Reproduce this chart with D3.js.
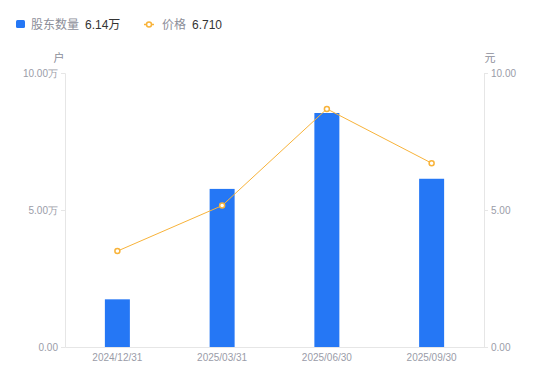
<!DOCTYPE html>
<html lang="zh">
<head>
    <meta charset="UTF-8">
    <title>股东数量</title>
    <script src="https://d3js.org/d3.v7.min.js"></script>
    <style>
        body { margin: 0; background: #fff; }
        svg { font-family: "Liberation Sans", Arial, "Noto Sans CJK SC", sans-serif; }
        .tick text { fill: #9a9ca8; font-size: 10px; }
        .legend text { font-size: 12px; }
    </style>
</head>
<body>
<svg width="550" height="381"></svg>
<script>
    // chart data
    const dates = ["2024/12/31", "2025/03/31", "2025/06/30", "2025/09/30"];
    const holders = [1.74, 5.77, 8.54, 6.14];   // 万户
    const prices = [3.50, 5.16, 8.69, 6.71];    // 元
    const leftTicks = [0, 5, 10];
    const rightTicks = [0, 5, 10];

    const barColor = "#2577f5";
    const lineColor = "#f8b33a";

    const margin = {top: 73, right: 66, bottom: 34, left: 65},
        width = 550 - margin.left - margin.right,
        height = 381 - margin.top - margin.bottom;

    const svg = d3.select("svg");
    const g = svg.append("g")
        .attr("transform", "translate(" + margin.left + "," + margin.top + ")");

    const x = d3.scaleBand().domain(dates).range([0, width]);
    const yL = d3.scaleLinear().domain([0, 10]).range([height, 0]);
    const yR = d3.scaleLinear().domain([0, 10]).range([height, 0]);

    // left axis
    const left = g.append("g")
        .call(d3.axisLeft(yL).tickValues(leftTicks).tickSize(4).tickPadding(3)
            .tickFormat(d => d === 0 ? "0.00" : d3.format(".2f")(d) + "万"));
    left.select(".domain").attr("stroke", "#e6e6e6");
    left.selectAll(".tick line").attr("stroke", "#e6e6e6");

    // right axis
    const right = g.append("g")
        .attr("transform", "translate(" + width + ",0)")
        .call(d3.axisRight(yR).tickValues(rightTicks).tickSize(4).tickPadding(3)
            .tickFormat(d3.format(".2f")));
    right.select(".domain").attr("stroke", "#e6e6e6");
    right.selectAll(".tick line").attr("stroke", "#e6e6e6");

    // bottom axis
    const bottom = g.append("g")
        .attr("transform", "translate(0," + height + ")")
        .call(d3.axisBottom(x).tickSize(0).tickPadding(7));
    bottom.select(".domain").attr("stroke", "#e6e6e6");

    // unit labels
    g.append("text").attr("x", -6).attr("y", -11)
        .attr("text-anchor", "middle").attr("fill", "#8c8e99").attr("font-size", 11)
        .attr("font-family", "Noto Sans CJK SC").text("户");
    g.append("text").attr("x", width + 6).attr("y", -11)
        .attr("text-anchor", "middle").attr("fill", "#8c8e99").attr("font-size", 11)
        .attr("font-family", "Noto Sans CJK SC").text("元");

    // bars
    const bw = 25;
    g.selectAll(".bar").data(holders).enter().append("rect")
        .attr("class", "bar")
        .attr("x", (d, i) => x(dates[i]) + x.bandwidth() / 2 - bw / 2)
        .attr("y", d => yL(d))
        .attr("width", bw)
        .attr("height", d => height - yL(d))
        .attr("fill", barColor);

    // price line
    const line = d3.line()
        .x((d, i) => x(dates[i]) + x.bandwidth() / 2)
        .y(d => yR(d));
    g.append("path")
        .attr("d", line(prices))
        .attr("fill", "none")
        .attr("stroke", lineColor)
        .attr("stroke-width", 1);
    g.selectAll(".pt").data(prices).enter().append("circle")
        .attr("class", "pt")
        .attr("cx", (d, i) => x(dates[i]) + x.bandwidth() / 2)
        .attr("cy", d => yR(d))
        .attr("r", 2.5)
        .attr("fill", "#fff")
        .attr("stroke", lineColor)
        .attr("stroke-width", 1.5);

    // legend
    const leg = svg.append("g").attr("class", "legend");
    leg.append("rect").attr("x", 16).attr("y", 20).attr("width", 9).attr("height", 8)
        .attr("rx", 1.5).attr("fill", barColor);
    leg.append("text").attr("x", 31).attr("y", 29).attr("fill", "#8c8e99")
        .attr("font-family", "Noto Sans CJK SC").text("股东数量");
    leg.append("text").attr("x", 85).attr("y", 29).attr("fill", "#333")
        .text(d3.format(".2f")(holders[3]) + "万");
    leg.append("line").attr("x1", 144).attr("x2", 154).attr("y1", 24.5).attr("y2", 24.5)
        .attr("stroke", lineColor).attr("stroke-width", 1.5);
    leg.append("circle").attr("cx", 149).attr("cy", 24.5).attr("r", 2.5)
        .attr("fill", "#fff").attr("stroke", lineColor).attr("stroke-width", 1.5);
    leg.append("text").attr("x", 162).attr("y", 29).attr("fill", "#8c8e99")
        .attr("font-family", "Noto Sans CJK SC").text("价格");
    leg.append("text").attr("x", 192).attr("y", 29).attr("fill", "#333")
        .text(d3.format(".3f")(prices[3]));
</script>
</body>
</html>
